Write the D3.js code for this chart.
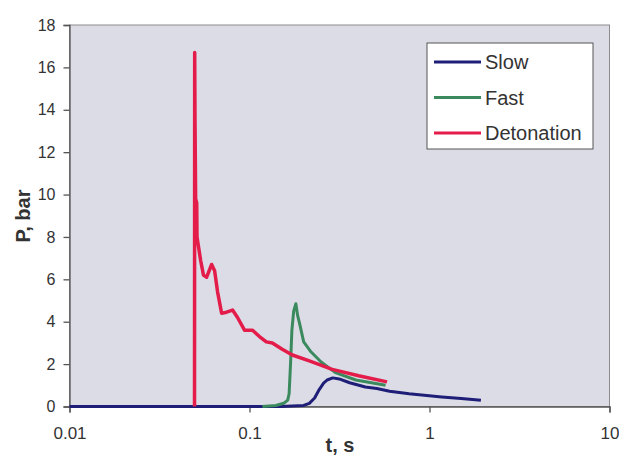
<!DOCTYPE html>
<html>
<head>
  <meta charset="utf-8">
  <script src="https://cdn.jsdelivr.net/npm/d3@7"></script>
  <style>
    body { margin: 0; background: #fff; }
    text { font-family: Arial, "Liberation Sans", sans-serif; fill: #333; }
  </style>
</head>
<body>
  <svg id="chart" width="619" height="460"></svg>

  <script>
    // data: [t in s, P in bar]
    var seriesNames = ["Slow", "Fast", "Detonation"];
    var seriesColors = ["#1e1e78", "#3b8a5e", "#e31c4a"];
    var seriesWidths = [3, 3, 3.5];

    var slow = [
      [0.01, 0], [0.15, 0], [0.2, 0.05], [0.215, 0.15], [0.23, 0.4], [0.244, 0.8],
      [0.258, 1.1], [0.27, 1.25], [0.29, 1.35], [0.315, 1.3], [0.36, 1.12],
      [0.44, 0.92], [0.51, 0.85], [0.6, 0.72], [0.77, 0.6], [1.17, 0.45],
      [1.5, 0.38], [1.93, 0.3]
    ];

    var fast = [
      [0.118, 0], [0.14, 0.05], [0.155, 0.15], [0.163, 0.3], [0.166, 0.6],
      [0.169, 2.0], [0.172, 3.6], [0.176, 4.5], [0.181, 4.85], [0.185, 4.3],
      [0.19, 3.9], [0.2, 3.05], [0.22, 2.57], [0.25, 2.1], [0.3, 1.6],
      [0.39, 1.25], [0.57, 1.0]
    ];

    var detonation = [
      [0.0495, 0], [0.0496, 16.7], [0.0498, 13.5], [0.0502, 9.8], [0.0509, 9.6],
      [0.0511, 8.0], [0.0535, 6.9], [0.0555, 6.2], [0.0578, 6.1], [0.0616, 6.7],
      [0.064, 6.4], [0.0665, 5.4], [0.07, 4.4], [0.0746, 4.45], [0.0805, 4.55],
      [0.0858, 4.2], [0.0938, 3.6], [0.104, 3.6], [0.1136, 3.3], [0.124, 3.05],
      [0.134, 3.0], [0.152, 2.7], [0.173, 2.43], [0.215, 2.15], [0.288, 1.75],
      [0.404, 1.45], [0.581, 1.16]
    ];

    var xTicks = [0.01, 0.1, 1, 10];
    var yTicks = [0, 2, 4, 6, 8, 10, 12, 14, 16, 18];

    var svg = d3.select("#chart"),
      plotLeft = 69.5, plotRight = 609.5, plotTop = 25, plotBottom = 406.5;

    var x = d3.scaleLog().domain([0.01, 10]).range([plotLeft, plotRight]);
    var y = d3.scaleLinear().domain([0, 18]).range([plotBottom, plotTop]);

    // plot area
    svg.append("rect")
      .attr("x", plotLeft).attr("y", plotTop)
      .attr("width", plotRight - plotLeft).attr("height", plotBottom - plotTop)
      .attr("fill", "#dcdce6")
      .attr("stroke", "#8c8c8c")
      .attr("stroke-width", 1);

    // y axis
    var yAxis = svg.append("g")
      .attr("transform", "translate(" + plotLeft + ",0)")
      .call(d3.axisLeft(y).tickValues(yTicks).tickSize(6).tickPadding(8).tickFormat(d3.format("d")));
    yAxis.selectAll("text").style("font-size", "16px");

    // x axis
    var xAxis = svg.append("g")
      .attr("transform", "translate(0," + plotBottom + ")")
      .call(d3.axisBottom(x).tickValues(xTicks).tickSize(6).tickPadding(14).tickFormat(d => String(d)));
    xAxis.selectAll("text").style("font-size", "17px");

    svg.selectAll(".domain, .tick line").attr("stroke", "#555").attr("stroke-width", 1.3);

    // lines
    var line = d3.line()
      .x(d => x(d[0]))
      .y(d => y(d[1]));

    var allSeries = [slow, fast, detonation];
    svg.append("g")
      .selectAll("path")
      .data(allSeries)
      .enter()
      .append("path")
      .attr("d", line)
      .attr("fill", "none")
      .attr("stroke", (d, i) => seriesColors[i])
      .attr("stroke-width", (d, i) => seriesWidths[i])
      .attr("stroke-linejoin", "round");

    // axis titles
    svg.append("text")
      .attr("x", 340).attr("y", 452)
      .attr("text-anchor", "middle")
      .style("font-size", "20px")
      .style("font-weight", "bold")
      .text("t, s");

    svg.append("text")
      .attr("transform", "translate(30,216) rotate(-90)")
      .attr("text-anchor", "middle")
      .style("font-size", "20px")
      .style("font-weight", "bold")
      .text("P, bar");

    // legend
    var legend = svg.append("g").attr("transform", "translate(427,43)");
    legend.append("rect")
      .attr("width", 166).attr("height", 106)
      .attr("fill", "#fff")
      .attr("stroke", "#555")
      .attr("stroke-width", 1);

    var item = legend.selectAll(".item")
      .data(seriesNames)
      .enter()
      .append("g")
      .attr("class", "item")
      .attr("transform", (d, i) => "translate(0," + (19 + i * 35.5) + ")");

    item.append("line")
      .attr("x1", 7).attr("x2", 54)
      .attr("stroke", (d, i) => seriesColors[i])
      .attr("stroke-width", 3);

    item.append("text")
      .attr("x", 58).attr("dy", "0.35em")
      .style("font-size", "20px")
      .text(d => d);
  </script>
</body>
</html>
